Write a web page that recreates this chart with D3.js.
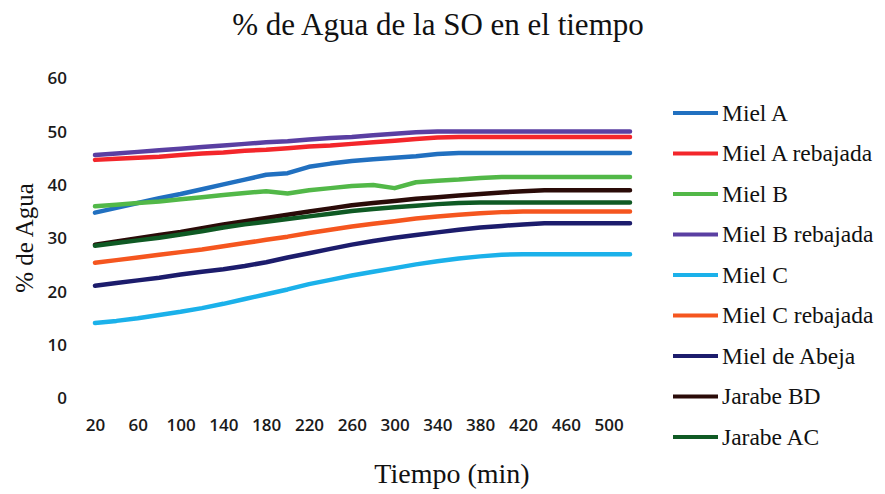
<!DOCTYPE html>
<html>
<head>
<meta charset="utf-8">
<script src="https://cdn.jsdelivr.net/npm/d3@7/dist/d3.min.js"></script>
<style>
  html, body { margin: 0; padding: 0; background: #ffffff; }
  svg { display: block; }
  .tick text { font-family: "Open Sans", sans-serif; font-weight: 600; font-size: 17px; fill: #1a1a1a; }
</style>
</head>
<body>
<svg id="chart" width="885" height="494"></svg>
<script>
const categories = [20,40,60,80,100,120,140,160,180,200,220,240,260,280,300,320,340,360,380,400,420,440,460,480,500,520];
const xTickLabels = [20,60,100,140,180,220,260,300,340,380,420,460,500];
const yTickLabels = [0,10,20,30,40,50,60];

const mielA       = [34.8,35.7,36.6,37.5,38.3,39.2,40.1,41.0,41.9,42.2,43.4,44.0,44.5,44.8,45.1,45.4,45.8,46.0,46.0,46.0,46.0,46.0,46.0,46.0,46.0,46.0];
const mielARebaj  = [44.7,44.9,45.1,45.3,45.6,45.9,46.1,46.4,46.6,46.9,47.2,47.4,47.7,48.0,48.3,48.6,48.9,49.0,49.0,49.0,49.0,49.0,49.0,49.0,49.0,49.0];
const mielB       = [36.0,36.3,36.6,36.9,37.3,37.7,38.1,38.5,38.8,38.4,39.0,39.4,39.8,40.0,39.4,40.5,40.8,41.0,41.3,41.5,41.5,41.5,41.5,41.5,41.5,41.5];
const mielBRebaj  = [45.6,45.9,46.2,46.5,46.8,47.1,47.4,47.7,48.0,48.2,48.5,48.8,49.0,49.3,49.6,49.9,50.0,50.0,50.0,50.0,50.0,50.0,50.0,50.0,50.0,50.0];
const mielC       = [14.1,14.5,15.0,15.6,16.2,16.9,17.7,18.6,19.5,20.4,21.4,22.2,23.0,23.7,24.4,25.1,25.7,26.2,26.6,26.9,27.0,27.0,27.0,27.0,27.0,27.0];
const mielCRebaj  = [25.4,25.9,26.4,26.9,27.4,27.9,28.5,29.1,29.7,30.3,31.0,31.6,32.2,32.7,33.2,33.7,34.1,34.4,34.7,34.9,35.0,35.0,35.0,35.0,35.0,35.0];
const mielAbeja   = [21.1,21.6,22.1,22.6,23.2,23.7,24.2,24.8,25.5,26.4,27.2,28.0,28.8,29.5,30.1,30.6,31.1,31.6,32.0,32.3,32.6,32.8,32.8,32.8,32.8,32.8];
const jarabeBD    = [28.8,29.4,30.0,30.6,31.2,31.9,32.6,33.2,33.8,34.4,35.0,35.6,36.2,36.6,37.0,37.4,37.7,38.0,38.3,38.6,38.8,39.0,39.0,39.0,39.0,39.0];
const jarabeAC    = [28.6,29.1,29.6,30.1,30.7,31.3,32.0,32.6,33.1,33.6,34.1,34.6,35.1,35.5,35.8,36.1,36.4,36.6,36.7,36.7,36.7,36.7,36.7,36.7,36.7,36.7];

const seriesNames  = ["Miel A","Miel A rebajada","Miel B","Miel B rebajada","Miel C","Miel C rebajada","Miel de Abeja","Jarabe BD","Jarabe AC"];
const seriesValues = [mielA, mielARebaj, mielB, mielBRebaj, mielC, mielCRebaj, mielAbeja, jarabeBD, jarabeAC];
const seriesColors = ["#2170c0","#f3262b","#52b848","#5a3fa2","#1bb1ea","#f5561f","#1c1c6c","#2a0b08","#0f5a24"];

const svg = d3.select("#chart");

const x = d3.scalePoint().domain(categories).range([95, 630]);
const y = d3.scaleLinear().domain([0, 60]).range([398.2, 78.3]);

// Y axis
const yAxis = svg.append("g")
  .attr("transform", "translate(67,0)")
  .call(d3.axisLeft(y).tickValues(yTickLabels).tickSize(0).tickPadding(0));
yAxis.select(".domain").remove();

// X axis
const xAxis = svg.append("g")
  .attr("transform", "translate(0,413)")
  .call(d3.axisBottom(x).tickValues(xTickLabels).tickSize(0).tickPadding(3));
xAxis.select(".domain").remove();
xAxis.selectAll(".tick text").attr("dy", "0.9em");

// Lines
const line = d3.line()
  .x((d, i) => x(categories[i]))
  .y(d => y(d))
  .curve(d3.curveLinear);

seriesValues.forEach((vals, k) => {
  svg.append("path")
    .datum(vals)
    .attr("fill", "none")
    .attr("stroke", seriesColors[k])
    .attr("stroke-width", 4.5)
    .attr("stroke-linejoin", "round")
    .attr("stroke-linecap", "round")
    .attr("d", line);
});

// Title
svg.append("text")
  .attr("x", 438).attr("y", 35)
  .attr("text-anchor", "middle")
  .attr("font-family", "'Liberation Serif', 'Times New Roman', serif")
  .attr("font-size", 31)
  .attr("fill", "#111")
  .text("% de Agua de la SO en el tiempo");

// Y title
svg.append("text")
  .attr("transform", "translate(33,238) rotate(-90)")
  .attr("text-anchor", "middle")
  .attr("font-family", "'Liberation Serif', 'Times New Roman', serif")
  .attr("font-size", 25)
  .attr("fill", "#111")
  .text("% de Agua");

// X title
svg.append("text")
  .attr("x", 452).attr("y", 483)
  .attr("text-anchor", "middle")
  .attr("font-family", "'Liberation Serif', 'Times New Roman', serif")
  .attr("font-size", 28)
  .attr("fill", "#111")
  .text("Tiempo (min)");

// Legend
const legendRowY = d3.scaleLinear().domain([0, 8]).range([113, 437]);
const legend = svg.append("g");
seriesNames.forEach((name, k) => {
  const ly = legendRowY(k);
  legend.append("line")
    .attr("x1", 673).attr("x2", 718)
    .attr("y1", ly).attr("y2", ly)
    .attr("stroke", seriesColors[k])
    .attr("stroke-width", 4);
  legend.append("text")
    .attr("x", 722).attr("y", ly + 7.5)
    .attr("font-family", "'Liberation Serif', 'Times New Roman', serif")
    .attr("font-size", 23.5)
    .attr("fill", "#111")
    .text(name);
});
</script>
</body>
</html>
